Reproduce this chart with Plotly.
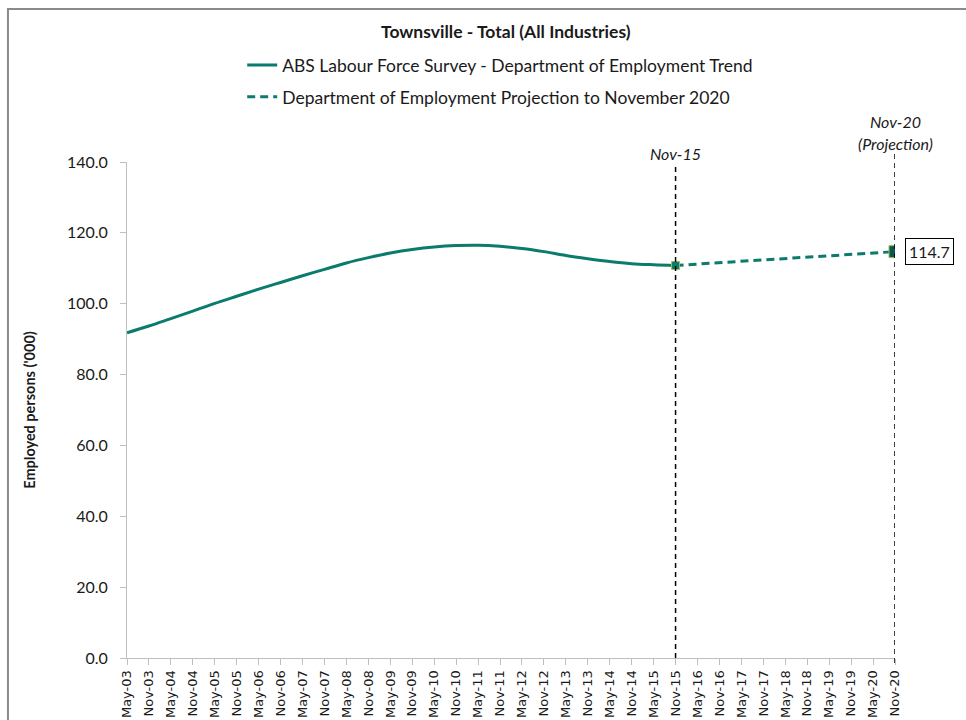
import plotly.graph_objects as go

# Half-yearly reference periods shown on the category axis
periods = [
    "May-03", "Nov-03", "May-04", "Nov-04", "May-05", "Nov-05", "May-06", "Nov-06",
    "May-07", "Nov-07", "May-08", "Nov-08", "May-09", "Nov-09", "May-10", "Nov-10",
    "May-11", "Nov-11", "May-12", "Nov-12", "May-13", "Nov-13", "May-14", "Nov-14",
    "May-15", "Nov-15", "May-16", "Nov-16", "May-17", "Nov-17", "May-18", "Nov-18",
    "May-19", "Nov-19", "May-20", "Nov-20",
]

# ABS Labour Force Survey trend, employed persons ('000)
trend_periods = periods[:26]
trend_values = [
    91.8, 93.7, 95.8, 97.9, 100.1, 102.1, 104.1, 106.0,
    107.9, 109.7, 111.5, 113.0, 114.3, 115.3, 116.0, 116.4,
    116.5, 116.2, 115.6, 114.7, 113.6, 112.7, 111.9, 111.3,
    111.0, 110.8,
]

# Department of Employment projection, Nov-15 to Nov-20
proj_periods = ["Nov-15", "Nov-20"]
proj_values = [110.8, 114.7]

y_ticks = [0, 20, 40, 60, 80, 100, 120, 140]

TEAL = "#0a7b6c"
TEAL_DARK = "#0c5a4f"
TEXT = "#1a1a1a"
BODY_FONT = "Lato"

fig = go.Figure()

fig.add_trace(go.Scatter(
    x=trend_periods, y=trend_values,
    mode="lines", line=dict(color=TEAL, width=3, shape="spline", smoothing=1.0),
    name="ABS Labour Force Survey - Department of Employment Trend",
    legendgroup="a", hoverinfo="x+y",
))

fig.add_trace(go.Scatter(
    x=proj_periods, y=proj_values,
    mode="lines", line=dict(color=TEAL, width=3, dash="8px,5px"),
    name="Department of Employment Projection to November 2020",
    legendgroup="b", hoverinfo="x+y",
))

# End-point markers of the projection
fig.add_trace(go.Scatter(
    x=proj_periods, y=proj_values,
    mode="markers",
    marker=dict(symbol="square", size=[8, 12], color=[TEAL, TEAL_DARK], opacity=1,
                line=dict(color="#9fbf5a", width=1)),
    showlegend=False, hoverinfo="x+y",
))

# Reference lines at the last actual and the projection end
i15 = periods.index("Nov-15")
i20 = periods.index("Nov-20")
shapes = [
    dict(type="line", xref="x", yref="paper", x0=i15, x1=i15, y0=0, y1=0.992,
         line=dict(color="black", width=1.5, dash="5px,4px")),
    dict(type="line", xref="x", yref="paper", x0=i20, x1=i20, y0=-0.01, y1=1.024,
         line=dict(color="black", width=1.5, dash="5px,4px")),
    # chart area frame
    dict(type="rect", xref="paper", yref="paper", x0=-0.155, x1=1.3, y0=-0.3, y1=1.3085,
         line=dict(color="#8a8a8a", width=2), fillcolor="rgba(0,0,0,0)", layer="below"),
]

annotations = [
    dict(x=i15, y=1.018, xref="x", yref="paper", text="<i>Nov-15</i>", showarrow=False,
         font=dict(family=BODY_FONT, size=16, color=TEXT), xanchor="center", yanchor="middle"),
    dict(x=i20, y=1.081, xref="x", yref="paper", text="<i>Nov-20</i>", showarrow=False,
         font=dict(family=BODY_FONT, size=16, color=TEXT), xanchor="center", yanchor="middle"),
    dict(x=i20, y=1.038, xref="x", yref="paper", text="<i>(Projection)</i>", showarrow=False,
         font=dict(family=BODY_FONT, size=16, color=TEXT), xanchor="center", yanchor="middle"),
    dict(x=i20, y=proj_values[-1], xref="x", yref="y", text=f"{proj_values[-1]:.1f}",
         showarrow=False, xanchor="left", yanchor="middle", xshift=10,
         font=dict(family=BODY_FONT, size=16, color=TEXT),
         bordercolor="black", borderwidth=1, borderpad=3, bgcolor="white"),
    dict(x=0.494, y=1.264, xref="paper", yref="paper",
         text="<b>Townsville - Total (All Industries)</b>", showarrow=False,
         font=dict(family=BODY_FONT, size=17.5, color=TEXT), xanchor="center", yanchor="middle"),
]

fig.update_layout(
    width=966, height=720,
    margin=dict(l=127, r=71, t=162, b=62, autoexpand=False),
    paper_bgcolor="white", plot_bgcolor="white",
    showlegend=True,
    legend=dict(
        x=0.150, y=1.163, xanchor="left", yanchor="middle",
        orientation="v", tracegroupgap=6,
        font=dict(family=BODY_FONT, size=17.5, color=TEXT),
        bgcolor="rgba(0,0,0,0)", borderwidth=0,
    ),
    shapes=shapes,
    annotations=annotations,
    hovermode="closest",
)

fig.update_xaxes(
    type="category", categoryorder="array", categoryarray=periods,
    range=[0, len(periods) - 1], automargin=False,
    tickmode="array", tickvals=periods, ticktext=periods, tickangle=-90,
    tickfont=dict(family="DejaVu Sans", size=13, color=TEXT),
    showline=True, linecolor="#bfbfbf", linewidth=1,
    ticks="outside", ticklen=6, tickcolor="#bfbfbf",
    showgrid=False, zeroline=False,
)

fig.update_yaxes(
    range=[0, 140], automargin=False,
    tickmode="array", tickvals=y_ticks, tickformat=".1f",
    tickfont=dict(family=BODY_FONT, size=16, color=TEXT),
    ticklabelstandoff=9,
    showline=True, linecolor="#bfbfbf", linewidth=1,
    ticks="outside", ticklen=6, tickcolor="#bfbfbf",
    showgrid=False, zeroline=False,
    title=dict(text="<b>Employed persons ('000)</b>", standoff=27,
               font=dict(family=BODY_FONT, size=14.5, color=TEXT)),
)

fig.write_html("out.html")
